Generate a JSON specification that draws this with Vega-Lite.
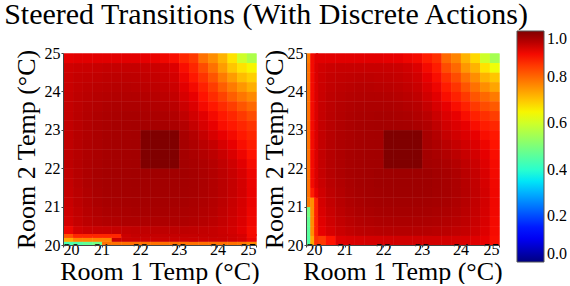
{
"$schema":"https://vega.github.io/schema/vega-lite/v6.json",
"padding":{"left":3,"top":0,"right":0,"bottom":0},
"background":"white",
"bounds":"flush",
"spacing":50,
"title":{"text":"Steered Transitions (With Discrete Actions)","font":"Liberation Serif","fontSize":30,"fontWeight":"normal","color":"black","anchor":"middle","offset":1,"dx":-24},
"config":{"view":{"stroke":null},"rect":{"binSpacing":0},"axis":{"labelFont":"Liberation Serif","labelFontSize":16,"labelColor":"black","titleFont":"Liberation Serif","titleFontSize":26,"titleFontWeight":"normal","titleColor":"black","tickColor":"#444","tickSize":2,"domainColor":"#444","grid":false,"values":[20,21,22,23,24,25],"labelPadding":0}},
"datasets":{
"L":[
{"x":20,"y":24.75,"v":0.912},{"x":20.25,"y":24.75,"v":0.915},{"x":20.5,"y":24.75,"v":0.915},{"x":20.75,"y":24.75,"v":0.915},{"x":21,"y":24.75,"v":0.915},{"x":21.25,"y":24.75,"v":0.915},{"x":21.5,"y":24.75,"v":0.915},{"x":21.75,"y":24.75,"v":0.914},{"x":22,"y":24.75,"v":0.912},{"x":22.25,"y":24.75,"v":0.908},{"x":22.5,"y":24.75,"v":0.903},{"x":22.75,"y":24.75,"v":0.895},{"x":23,"y":24.75,"v":0.87},{"x":23.25,"y":24.75,"v":0.85},{"x":23.5,"y":24.75,"v":0.79},{"x":23.75,"y":24.75,"v":0.76},{"x":24,"y":24.75,"v":0.72},{"x":24.25,"y":24.75,"v":0.67},{"x":24.5,"y":24.75,"v":0.6},{"x":24.75,"y":24.75,"v":0.56},
{"x":20,"y":24.5,"v":0.932},{"x":20.25,"y":24.5,"v":0.935},{"x":20.5,"y":24.5,"v":0.936},{"x":20.75,"y":24.5,"v":0.938},{"x":21,"y":24.5,"v":0.94},{"x":21.25,"y":24.5,"v":0.94},{"x":21.5,"y":24.5,"v":0.94},{"x":21.75,"y":24.5,"v":0.94},{"x":22,"y":24.5,"v":0.938},{"x":22.25,"y":24.5,"v":0.935},{"x":22.5,"y":24.5,"v":0.93},{"x":22.75,"y":24.5,"v":0.92},{"x":23,"y":24.5,"v":0.895},{"x":23.25,"y":24.5,"v":0.87},{"x":23.5,"y":24.5,"v":0.83},{"x":23.75,"y":24.5,"v":0.79},{"x":24,"y":24.5,"v":0.745},{"x":24.25,"y":24.5,"v":0.7},{"x":24.5,"y":24.5,"v":0.67},{"x":24.75,"y":24.5,"v":0.65},
{"x":20,"y":24.25,"v":0.935},{"x":20.25,"y":24.25,"v":0.94},{"x":20.5,"y":24.25,"v":0.942},{"x":20.75,"y":24.25,"v":0.944},{"x":21,"y":24.25,"v":0.946},{"x":21.25,"y":24.25,"v":0.947},{"x":21.5,"y":24.25,"v":0.947},{"x":21.75,"y":24.25,"v":0.946},{"x":22,"y":24.25,"v":0.944},{"x":22.25,"y":24.25,"v":0.941},{"x":22.5,"y":24.25,"v":0.936},{"x":22.75,"y":24.25,"v":0.928},{"x":23,"y":24.25,"v":0.905},{"x":23.25,"y":24.25,"v":0.885},{"x":23.5,"y":24.25,"v":0.855},{"x":23.75,"y":24.25,"v":0.82},{"x":24,"y":24.25,"v":0.78},{"x":24.25,"y":24.25,"v":0.745},{"x":24.5,"y":24.25,"v":0.71},{"x":24.75,"y":24.25,"v":0.69},
{"x":20,"y":24,"v":0.937},{"x":20.25,"y":24,"v":0.943},{"x":20.5,"y":24,"v":0.946},{"x":20.75,"y":24,"v":0.949},{"x":21,"y":24,"v":0.951},{"x":21.25,"y":24,"v":0.952},{"x":21.5,"y":24,"v":0.952},{"x":21.75,"y":24,"v":0.951},{"x":22,"y":24,"v":0.949},{"x":22.25,"y":24,"v":0.946},{"x":22.5,"y":24,"v":0.942},{"x":22.75,"y":24,"v":0.935},{"x":23,"y":24,"v":0.915},{"x":23.25,"y":24,"v":0.9},{"x":23.5,"y":24,"v":0.875},{"x":23.75,"y":24,"v":0.845},{"x":24,"y":24,"v":0.81},{"x":24.25,"y":24,"v":0.78},{"x":24.5,"y":24,"v":0.75},{"x":24.75,"y":24,"v":0.725},
{"x":20,"y":23.75,"v":0.939},{"x":20.25,"y":23.75,"v":0.946},{"x":20.5,"y":23.75,"v":0.95},{"x":20.75,"y":23.75,"v":0.953},{"x":21,"y":23.75,"v":0.955},{"x":21.25,"y":23.75,"v":0.957},{"x":21.5,"y":23.75,"v":0.957},{"x":21.75,"y":23.75,"v":0.957},{"x":22,"y":23.75,"v":0.955},{"x":22.25,"y":23.75,"v":0.952},{"x":22.5,"y":23.75,"v":0.948},{"x":22.75,"y":23.75,"v":0.942},{"x":23,"y":23.75,"v":0.925},{"x":23.25,"y":23.75,"v":0.91},{"x":23.5,"y":23.75,"v":0.89},{"x":23.75,"y":23.75,"v":0.865},{"x":24,"y":23.75,"v":0.84},{"x":24.25,"y":23.75,"v":0.81},{"x":24.5,"y":23.75,"v":0.785},{"x":24.75,"y":23.75,"v":0.765},
{"x":20,"y":23.5,"v":0.941},{"x":20.25,"y":23.5,"v":0.948},{"x":20.5,"y":23.5,"v":0.953},{"x":20.75,"y":23.5,"v":0.956},{"x":21,"y":23.5,"v":0.959},{"x":21.25,"y":23.5,"v":0.961},{"x":21.5,"y":23.5,"v":0.961},{"x":21.75,"y":23.5,"v":0.961},{"x":22,"y":23.5,"v":0.96},{"x":22.25,"y":23.5,"v":0.958},{"x":22.5,"y":23.5,"v":0.955},{"x":22.75,"y":23.5,"v":0.95},{"x":23,"y":23.5,"v":0.935},{"x":23.25,"y":23.5,"v":0.92},{"x":23.5,"y":23.5,"v":0.9},{"x":23.75,"y":23.5,"v":0.885},{"x":24,"y":23.5,"v":0.865},{"x":24.25,"y":23.5,"v":0.845},{"x":24.5,"y":23.5,"v":0.82},{"x":24.75,"y":23.5,"v":0.8},
{"x":20,"y":23.25,"v":0.942},{"x":20.25,"y":23.25,"v":0.95},{"x":20.5,"y":23.25,"v":0.955},{"x":20.75,"y":23.25,"v":0.959},{"x":21,"y":23.25,"v":0.962},{"x":21.25,"y":23.25,"v":0.964},{"x":21.5,"y":23.25,"v":0.965},{"x":21.75,"y":23.25,"v":0.965},{"x":22,"y":23.25,"v":0.964},{"x":22.25,"y":23.25,"v":0.963},{"x":22.5,"y":23.25,"v":0.961},{"x":22.75,"y":23.25,"v":0.957},{"x":23,"y":23.25,"v":0.945},{"x":23.25,"y":23.25,"v":0.93},{"x":23.5,"y":23.25,"v":0.915},{"x":23.75,"y":23.25,"v":0.9},{"x":24,"y":23.25,"v":0.885},{"x":24.25,"y":23.25,"v":0.87},{"x":24.5,"y":23.25,"v":0.85},{"x":24.75,"y":23.25,"v":0.83},
{"x":20,"y":23,"v":0.943},{"x":20.25,"y":23,"v":0.951},{"x":20.5,"y":23,"v":0.957},{"x":20.75,"y":23,"v":0.961},{"x":21,"y":23,"v":0.964},{"x":21.25,"y":23,"v":0.966},{"x":21.5,"y":23,"v":0.967},{"x":21.75,"y":23,"v":0.968},{"x":22,"y":23,"v":0.968},{"x":22.25,"y":23,"v":0.967},{"x":22.5,"y":23,"v":0.966},{"x":22.75,"y":23,"v":0.963},{"x":23,"y":23,"v":0.955},{"x":23.25,"y":23,"v":0.94},{"x":23.5,"y":23,"v":0.925},{"x":23.75,"y":23,"v":0.91},{"x":24,"y":23,"v":0.895},{"x":24.25,"y":23,"v":0.885},{"x":24.5,"y":23,"v":0.87},{"x":24.75,"y":23,"v":0.855},
{"x":20,"y":22.75,"v":0.944},{"x":20.25,"y":22.75,"v":0.952},{"x":20.5,"y":22.75,"v":0.958},{"x":20.75,"y":22.75,"v":0.962},{"x":21,"y":22.75,"v":0.965},{"x":21.25,"y":22.75,"v":0.967},{"x":21.5,"y":22.75,"v":0.968},{"x":21.75,"y":22.75,"v":0.969},{"x":22,"y":22.75,"v":1},{"x":22.25,"y":22.75,"v":1},{"x":22.5,"y":22.75,"v":1},{"x":22.75,"y":22.75,"v":1},{"x":23,"y":22.75,"v":0.965},{"x":23.25,"y":22.75,"v":0.955},{"x":23.5,"y":22.75,"v":0.94},{"x":23.75,"y":22.75,"v":0.925},{"x":24,"y":22.75,"v":0.91},{"x":24.25,"y":22.75,"v":0.9},{"x":24.5,"y":22.75,"v":0.885},{"x":24.75,"y":22.75,"v":0.87},
{"x":20,"y":22.5,"v":0.945},{"x":20.25,"y":22.5,"v":0.953},{"x":20.5,"y":22.5,"v":0.959},{"x":20.75,"y":22.5,"v":0.963},{"x":21,"y":22.5,"v":0.966},{"x":21.25,"y":22.5,"v":0.968},{"x":21.5,"y":22.5,"v":0.969},{"x":21.75,"y":22.5,"v":0.97},{"x":22,"y":22.5,"v":1},{"x":22.25,"y":22.5,"v":1},{"x":22.5,"y":22.5,"v":1},{"x":22.75,"y":22.5,"v":1},{"x":23,"y":22.5,"v":0.967},{"x":23.25,"y":22.5,"v":0.96},{"x":23.5,"y":22.5,"v":0.95},{"x":23.75,"y":22.5,"v":0.94},{"x":24,"y":22.5,"v":0.925},{"x":24.25,"y":22.5,"v":0.91},{"x":24.5,"y":22.5,"v":0.895},{"x":24.75,"y":22.5,"v":0.88},
{"x":20,"y":22.25,"v":0.946},{"x":20.25,"y":22.25,"v":0.953},{"x":20.5,"y":22.25,"v":0.959},{"x":20.75,"y":22.25,"v":0.963},{"x":21,"y":22.25,"v":0.966},{"x":21.25,"y":22.25,"v":0.968},{"x":21.5,"y":22.25,"v":0.969},{"x":21.75,"y":22.25,"v":0.97},{"x":22,"y":22.25,"v":1},{"x":22.25,"y":22.25,"v":1},{"x":22.5,"y":22.25,"v":1},{"x":22.75,"y":22.25,"v":1},{"x":23,"y":22.25,"v":0.968},{"x":23.25,"y":22.25,"v":0.963},{"x":23.5,"y":22.25,"v":0.956},{"x":23.75,"y":22.25,"v":0.948},{"x":24,"y":22.25,"v":0.937},{"x":24.25,"y":22.25,"v":0.922},{"x":24.5,"y":22.25,"v":0.905},{"x":24.75,"y":22.25,"v":0.89},
{"x":20,"y":22,"v":0.946},{"x":20.25,"y":22,"v":0.954},{"x":20.5,"y":22,"v":0.96},{"x":20.75,"y":22,"v":0.964},{"x":21,"y":22,"v":0.967},{"x":21.25,"y":22,"v":0.968},{"x":21.5,"y":22,"v":0.969},{"x":21.75,"y":22,"v":0.97},{"x":22,"y":22,"v":1},{"x":22.25,"y":22,"v":1},{"x":22.5,"y":22,"v":1},{"x":22.75,"y":22,"v":1},{"x":23,"y":22,"v":0.969},{"x":23.25,"y":22,"v":0.965},{"x":23.5,"y":22,"v":0.96},{"x":23.75,"y":22,"v":0.953},{"x":24,"y":22,"v":0.944},{"x":24.25,"y":22,"v":0.932},{"x":24.5,"y":22,"v":0.915},{"x":24.75,"y":22,"v":0.897},
{"x":20,"y":21.75,"v":0.944},{"x":20.25,"y":21.75,"v":0.953},{"x":20.5,"y":21.75,"v":0.96},{"x":20.75,"y":21.75,"v":0.965},{"x":21,"y":21.75,"v":0.968},{"x":21.25,"y":21.75,"v":0.969},{"x":21.5,"y":21.75,"v":0.97},{"x":21.75,"y":21.75,"v":0.971},{"x":22,"y":21.75,"v":0.972},{"x":22.25,"y":21.75,"v":0.972},{"x":22.5,"y":21.75,"v":0.972},{"x":22.75,"y":21.75,"v":0.971},{"x":23,"y":21.75,"v":0.97},{"x":23.25,"y":21.75,"v":0.967},{"x":23.5,"y":21.75,"v":0.962},{"x":23.75,"y":21.75,"v":0.956},{"x":24,"y":21.75,"v":0.948},{"x":24.25,"y":21.75,"v":0.938},{"x":24.5,"y":21.75,"v":0.924},{"x":24.75,"y":21.75,"v":0.905},
{"x":20,"y":21.5,"v":0.942},{"x":20.25,"y":21.5,"v":0.952},{"x":20.5,"y":21.5,"v":0.96},{"x":20.75,"y":21.5,"v":0.965},{"x":21,"y":21.5,"v":0.968},{"x":21.25,"y":21.5,"v":0.969},{"x":21.5,"y":21.5,"v":0.97},{"x":21.75,"y":21.5,"v":0.971},{"x":22,"y":21.5,"v":0.971},{"x":22.25,"y":21.5,"v":0.971},{"x":22.5,"y":21.5,"v":0.971},{"x":22.75,"y":21.5,"v":0.97},{"x":23,"y":21.5,"v":0.969},{"x":23.25,"y":21.5,"v":0.967},{"x":23.5,"y":21.5,"v":0.963},{"x":23.75,"y":21.5,"v":0.957},{"x":24,"y":21.5,"v":0.95},{"x":24.25,"y":21.5,"v":0.94},{"x":24.5,"y":21.5,"v":0.927},{"x":24.75,"y":21.5,"v":0.907},
{"x":20,"y":21.25,"v":0.94},{"x":20.25,"y":21.25,"v":0.95},{"x":20.5,"y":21.25,"v":0.958},{"x":20.75,"y":21.25,"v":0.964},{"x":21,"y":21.25,"v":0.967},{"x":21.25,"y":21.25,"v":0.968},{"x":21.5,"y":21.25,"v":0.969},{"x":21.75,"y":21.25,"v":0.97},{"x":22,"y":21.25,"v":0.97},{"x":22.25,"y":21.25,"v":0.97},{"x":22.5,"y":21.25,"v":0.97},{"x":22.75,"y":21.25,"v":0.969},{"x":23,"y":21.25,"v":0.968},{"x":23.25,"y":21.25,"v":0.966},{"x":23.5,"y":21.25,"v":0.962},{"x":23.75,"y":21.25,"v":0.957},{"x":24,"y":21.25,"v":0.95},{"x":24.25,"y":21.25,"v":0.94},{"x":24.5,"y":21.25,"v":0.928},{"x":24.75,"y":21.25,"v":0.908},
{"x":20,"y":21,"v":0.937},{"x":20.25,"y":21,"v":0.948},{"x":20.5,"y":21,"v":0.956},{"x":20.75,"y":21,"v":0.962},{"x":21,"y":21,"v":0.965},{"x":21.25,"y":21,"v":0.966},{"x":21.5,"y":21,"v":0.967},{"x":21.75,"y":21,"v":0.968},{"x":22,"y":21,"v":0.968},{"x":22.25,"y":21,"v":0.968},{"x":22.5,"y":21,"v":0.968},{"x":22.75,"y":21,"v":0.967},{"x":23,"y":21,"v":0.966},{"x":23.25,"y":21,"v":0.964},{"x":23.5,"y":21,"v":0.96},{"x":23.75,"y":21,"v":0.955},{"x":24,"y":21,"v":0.948},{"x":24.25,"y":21,"v":0.938},{"x":24.5,"y":21,"v":0.926},{"x":24.75,"y":21,"v":0.907},
{"x":20,"y":20.75,"v":0.933},{"x":20.25,"y":20.75,"v":0.944},{"x":20.5,"y":20.75,"v":0.952},{"x":20.75,"y":20.75,"v":0.958},{"x":21,"y":20.75,"v":0.962},{"x":21.25,"y":20.75,"v":0.963},{"x":21.5,"y":20.75,"v":0.964},{"x":21.75,"y":20.75,"v":0.965},{"x":22,"y":20.75,"v":0.965},{"x":22.25,"y":20.75,"v":0.965},{"x":22.5,"y":20.75,"v":0.965},{"x":22.75,"y":20.75,"v":0.964},{"x":23,"y":20.75,"v":0.963},{"x":23.25,"y":20.75,"v":0.961},{"x":23.5,"y":20.75,"v":0.957},{"x":23.75,"y":20.75,"v":0.952},{"x":24,"y":20.75,"v":0.945},{"x":24.25,"y":20.75,"v":0.935},{"x":24.5,"y":20.75,"v":0.923},{"x":24.75,"y":20.75,"v":0.905},
{"x":20,"y":20.5,"v":0.928},{"x":20.25,"y":20.5,"v":0.94},{"x":20.5,"y":20.5,"v":0.948},{"x":20.75,"y":20.5,"v":0.953},{"x":21,"y":20.5,"v":0.957},{"x":21.25,"y":20.5,"v":0.958},{"x":21.5,"y":20.5,"v":0.96},{"x":21.75,"y":20.5,"v":0.96},{"x":22,"y":20.5,"v":0.96},{"x":22.25,"y":20.5,"v":0.96},{"x":22.5,"y":20.5,"v":0.96},{"x":22.75,"y":20.5,"v":0.96},{"x":23,"y":20.5,"v":0.959},{"x":23.25,"y":20.5,"v":0.957},{"x":23.5,"y":20.5,"v":0.953},{"x":23.75,"y":20.5,"v":0.948},{"x":24,"y":20.5,"v":0.941},{"x":24.25,"y":20.5,"v":0.932},{"x":24.5,"y":20.5,"v":0.92},{"x":24.75,"y":20.5,"v":0.903},
{"x":20,"y":20.25,"v":0.905},{"x":20.25,"y":20.25,"v":0.928},{"x":20.5,"y":20.25,"v":0.935},{"x":20.75,"y":20.25,"v":0.937},{"x":21,"y":20.25,"v":0.938},{"x":21.25,"y":20.25,"v":0.94},{"x":21.5,"y":20.25,"v":0.942},{"x":21.75,"y":20.25,"v":0.944},{"x":22,"y":20.25,"v":0.945},{"x":22.25,"y":20.25,"v":0.946},{"x":22.5,"y":20.25,"v":0.946},{"x":22.75,"y":20.25,"v":0.946},{"x":23,"y":20.25,"v":0.946},{"x":23.25,"y":20.25,"v":0.945},{"x":23.5,"y":20.25,"v":0.943},{"x":23.75,"y":20.25,"v":0.94},{"x":24,"y":20.25,"v":0.935},{"x":24.25,"y":20.25,"v":0.928},{"x":24.5,"y":20.25,"v":0.915},{"x":24.75,"y":20.25,"v":0.898}
],
"Lb":[
{"x":20,"y":20,"v":0.44},{"x":20.25,"y":20,"v":0.45},{"x":20.5,"y":20,"v":0.47},{"x":20.75,"y":20,"v":0.49},{"x":21,"y":20,"v":0.79},{"x":21.25,"y":20,"v":0.79},{"x":21.5,"y":20,"v":0.79},{"x":21.75,"y":20,"v":0.79},{"x":22,"y":20,"v":0.79},{"x":22.25,"y":20,"v":0.79},{"x":22.5,"y":20,"v":0.79},{"x":22.75,"y":20,"v":0.79},{"x":23,"y":20,"v":0.79},{"x":23.25,"y":20,"v":0.79},{"x":23.5,"y":20,"v":0.79},{"x":23.75,"y":20,"v":0.79},{"x":24,"y":20,"v":0.79},{"x":24.25,"y":20,"v":0.79},{"x":24.5,"y":20,"v":0.785},{"x":24.75,"y":20,"v":0.77},
{"x":20,"y":20.1,"v":0.73},{"x":20.25,"y":20.1,"v":0.77},{"x":20.5,"y":20.1,"v":0.77},{"x":20.75,"y":20.1,"v":0.77},{"x":21,"y":20.1,"v":0.77},{"x":21.25,"y":20.1,"v":0.935},{"x":21.5,"y":20.1,"v":0.935},{"x":21.75,"y":20.1,"v":0.935},{"x":22,"y":20.1,"v":0.935},{"x":22.25,"y":20.1,"v":0.935},{"x":22.5,"y":20.1,"v":0.935},{"x":22.75,"y":20.1,"v":0.935},{"x":23,"y":20.1,"v":0.935},{"x":23.25,"y":20.1,"v":0.935},{"x":23.5,"y":20.1,"v":0.935},{"x":23.75,"y":20.1,"v":0.935},{"x":24,"y":20.1,"v":0.935},{"x":24.25,"y":20.1,"v":0.932},{"x":24.5,"y":20.1,"v":0.925},{"x":24.75,"y":20.1,"v":0.905},
{"x":20,"y":20.2,"v":0.825},{"x":20.25,"y":20.2,"v":0.87},{"x":20.5,"y":20.2,"v":0.87},{"x":20.75,"y":20.2,"v":0.87},{"x":21,"y":20.2,"v":0.87},{"x":21.25,"y":20.2,"v":0.87},{"x":21.5,"y":20.2,"v":0.935},{"x":21.75,"y":20.2,"v":0.94},{"x":22,"y":20.2,"v":0.94},{"x":22.25,"y":20.2,"v":0.94},{"x":22.5,"y":20.2,"v":0.94},{"x":22.75,"y":20.2,"v":0.94},{"x":23,"y":20.2,"v":0.94},{"x":23.25,"y":20.2,"v":0.94},{"x":23.5,"y":20.2,"v":0.94},{"x":23.75,"y":20.2,"v":0.94},{"x":24,"y":20.2,"v":0.937},{"x":24.25,"y":20.2,"v":0.932},{"x":24.5,"y":20.2,"v":0.925},{"x":24.75,"y":20.2,"v":0.9}
],
"R":[
{"x":20.25,"y":24.75,"v":0.915},{"x":20.5,"y":24.75,"v":0.915},{"x":20.75,"y":24.75,"v":0.915},{"x":21,"y":24.75,"v":0.915},{"x":21.25,"y":24.75,"v":0.915},{"x":21.5,"y":24.75,"v":0.915},{"x":21.75,"y":24.75,"v":0.915},{"x":22,"y":24.75,"v":0.912},{"x":22.25,"y":24.75,"v":0.91},{"x":22.5,"y":24.75,"v":0.905},{"x":22.75,"y":24.75,"v":0.9},{"x":23,"y":24.75,"v":0.88},{"x":23.25,"y":24.75,"v":0.86},{"x":23.5,"y":24.75,"v":0.8},{"x":23.75,"y":24.75,"v":0.77},{"x":24,"y":24.75,"v":0.72},{"x":24.25,"y":24.75,"v":0.68},{"x":24.5,"y":24.75,"v":0.6},{"x":24.75,"y":24.75,"v":0.55},
{"x":20.25,"y":24.5,"v":0.93},{"x":20.5,"y":24.5,"v":0.935},{"x":20.75,"y":24.5,"v":0.938},{"x":21,"y":24.5,"v":0.938},{"x":21.25,"y":24.5,"v":0.938},{"x":21.5,"y":24.5,"v":0.938},{"x":21.75,"y":24.5,"v":0.938},{"x":22,"y":24.5,"v":0.937},{"x":22.25,"y":24.5,"v":0.935},{"x":22.5,"y":24.5,"v":0.93},{"x":22.75,"y":24.5,"v":0.92},{"x":23,"y":24.5,"v":0.9},{"x":23.25,"y":24.5,"v":0.88},{"x":23.5,"y":24.5,"v":0.83},{"x":23.75,"y":24.5,"v":0.8},{"x":24,"y":24.5,"v":0.75},{"x":24.25,"y":24.5,"v":0.72},{"x":24.5,"y":24.5,"v":0.67},{"x":24.75,"y":24.5,"v":0.64},
{"x":20.25,"y":24.25,"v":0.933},{"x":20.5,"y":24.25,"v":0.94},{"x":20.75,"y":24.25,"v":0.943},{"x":21,"y":24.25,"v":0.945},{"x":21.25,"y":24.25,"v":0.946},{"x":21.5,"y":24.25,"v":0.946},{"x":21.75,"y":24.25,"v":0.945},{"x":22,"y":24.25,"v":0.944},{"x":22.25,"y":24.25,"v":0.941},{"x":22.5,"y":24.25,"v":0.937},{"x":22.75,"y":24.25,"v":0.93},{"x":23,"y":24.25,"v":0.91},{"x":23.25,"y":24.25,"v":0.895},{"x":23.5,"y":24.25,"v":0.86},{"x":23.75,"y":24.25,"v":0.83},{"x":24,"y":24.25,"v":0.79},{"x":24.25,"y":24.25,"v":0.76},{"x":24.5,"y":24.25,"v":0.72},{"x":24.75,"y":24.25,"v":0.7},
{"x":20.25,"y":24,"v":0.935},{"x":20.5,"y":24,"v":0.943},{"x":20.75,"y":24,"v":0.947},{"x":21,"y":24,"v":0.95},{"x":21.25,"y":24,"v":0.952},{"x":21.5,"y":24,"v":0.952},{"x":21.75,"y":24,"v":0.951},{"x":22,"y":24,"v":0.95},{"x":22.25,"y":24,"v":0.947},{"x":22.5,"y":24,"v":0.943},{"x":22.75,"y":24,"v":0.937},{"x":23,"y":24,"v":0.92},{"x":23.25,"y":24,"v":0.905},{"x":23.5,"y":24,"v":0.88},{"x":23.75,"y":24,"v":0.855},{"x":24,"y":24,"v":0.82},{"x":24.25,"y":24,"v":0.79},{"x":24.5,"y":24,"v":0.76},{"x":24.75,"y":24,"v":0.735},
{"x":20.25,"y":23.75,"v":0.937},{"x":20.5,"y":23.75,"v":0.946},{"x":20.75,"y":23.75,"v":0.951},{"x":21,"y":23.75,"v":0.954},{"x":21.25,"y":23.75,"v":0.956},{"x":21.5,"y":23.75,"v":0.957},{"x":21.75,"y":23.75,"v":0.957},{"x":22,"y":23.75,"v":0.956},{"x":22.25,"y":23.75,"v":0.953},{"x":22.5,"y":23.75,"v":0.95},{"x":22.75,"y":23.75,"v":0.945},{"x":23,"y":23.75,"v":0.93},{"x":23.25,"y":23.75,"v":0.915},{"x":23.5,"y":23.75,"v":0.895},{"x":23.75,"y":23.75,"v":0.875},{"x":24,"y":23.75,"v":0.85},{"x":24.25,"y":23.75,"v":0.82},{"x":24.5,"y":23.75,"v":0.8},{"x":24.75,"y":23.75,"v":0.78},
{"x":20.25,"y":23.5,"v":0.939},{"x":20.5,"y":23.5,"v":0.948},{"x":20.75,"y":23.5,"v":0.954},{"x":21,"y":23.5,"v":0.958},{"x":21.25,"y":23.5,"v":0.96},{"x":21.5,"y":23.5,"v":0.961},{"x":21.75,"y":23.5,"v":0.961},{"x":22,"y":23.5,"v":0.961},{"x":22.25,"y":23.5,"v":0.959},{"x":22.5,"y":23.5,"v":0.956},{"x":22.75,"y":23.5,"v":0.952},{"x":23,"y":23.5,"v":0.94},{"x":23.25,"y":23.5,"v":0.925},{"x":23.5,"y":23.5,"v":0.91},{"x":23.75,"y":23.5,"v":0.895},{"x":24,"y":23.5,"v":0.875},{"x":24.25,"y":23.5,"v":0.85},{"x":24.5,"y":23.5,"v":0.83},{"x":24.75,"y":23.5,"v":0.815},
{"x":20.25,"y":23.25,"v":0.94},{"x":20.5,"y":23.25,"v":0.95},{"x":20.75,"y":23.25,"v":0.956},{"x":21,"y":23.25,"v":0.96},{"x":21.25,"y":23.25,"v":0.963},{"x":21.5,"y":23.25,"v":0.964},{"x":21.75,"y":23.25,"v":0.965},{"x":22,"y":23.25,"v":0.965},{"x":22.25,"y":23.25,"v":0.964},{"x":22.5,"y":23.25,"v":0.962},{"x":22.75,"y":23.25,"v":0.958},{"x":23,"y":23.25,"v":0.95},{"x":23.25,"y":23.25,"v":0.935},{"x":23.5,"y":23.25,"v":0.92},{"x":23.75,"y":23.25,"v":0.91},{"x":24,"y":23.25,"v":0.895},{"x":24.25,"y":23.25,"v":0.875},{"x":24.5,"y":23.25,"v":0.86},{"x":24.75,"y":23.25,"v":0.845},
{"x":20.25,"y":23,"v":0.941},{"x":20.5,"y":23,"v":0.951},{"x":20.75,"y":23,"v":0.958},{"x":21,"y":23,"v":0.962},{"x":21.25,"y":23,"v":0.965},{"x":21.5,"y":23,"v":0.967},{"x":21.75,"y":23,"v":0.968},{"x":22,"y":23,"v":0.968},{"x":22.25,"y":23,"v":0.968},{"x":22.5,"y":23,"v":0.967},{"x":22.75,"y":23,"v":0.964},{"x":23,"y":23,"v":0.958},{"x":23.25,"y":23,"v":0.945},{"x":23.5,"y":23,"v":0.93},{"x":23.75,"y":23,"v":0.92},{"x":24,"y":23,"v":0.91},{"x":24.25,"y":23,"v":0.895},{"x":24.5,"y":23,"v":0.88},{"x":24.75,"y":23,"v":0.87},
{"x":20.25,"y":22.75,"v":0.942},{"x":20.5,"y":22.75,"v":0.952},{"x":20.75,"y":22.75,"v":0.959},{"x":21,"y":22.75,"v":0.963},{"x":21.25,"y":22.75,"v":0.966},{"x":21.5,"y":22.75,"v":0.968},{"x":21.75,"y":22.75,"v":0.969},{"x":22,"y":22.75,"v":1},{"x":22.25,"y":22.75,"v":1},{"x":22.5,"y":22.75,"v":1},{"x":22.75,"y":22.75,"v":1},{"x":23,"y":22.75,"v":0.965},{"x":23.25,"y":22.75,"v":0.955},{"x":23.5,"y":22.75,"v":0.94},{"x":23.75,"y":22.75,"v":0.93},{"x":24,"y":22.75,"v":0.92},{"x":24.25,"y":22.75,"v":0.91},{"x":24.5,"y":22.75,"v":0.895},{"x":24.75,"y":22.75,"v":0.885},
{"x":20.25,"y":22.5,"v":0.942},{"x":20.5,"y":22.5,"v":0.953},{"x":20.75,"y":22.5,"v":0.96},{"x":21,"y":22.5,"v":0.964},{"x":21.25,"y":22.5,"v":0.967},{"x":21.5,"y":22.5,"v":0.969},{"x":21.75,"y":22.5,"v":0.97},{"x":22,"y":22.5,"v":1},{"x":22.25,"y":22.5,"v":1},{"x":22.5,"y":22.5,"v":1},{"x":22.75,"y":22.5,"v":1},{"x":23,"y":22.5,"v":0.967},{"x":23.25,"y":22.5,"v":0.96},{"x":23.5,"y":22.5,"v":0.95},{"x":23.75,"y":22.5,"v":0.94},{"x":24,"y":22.5,"v":0.93},{"x":24.25,"y":22.5,"v":0.92},{"x":24.5,"y":22.5,"v":0.905},{"x":24.75,"y":22.5,"v":0.89},
{"x":20.25,"y":22.25,"v":0.942},{"x":20.5,"y":22.25,"v":0.953},{"x":20.75,"y":22.25,"v":0.96},{"x":21,"y":22.25,"v":0.965},{"x":21.25,"y":22.25,"v":0.968},{"x":21.5,"y":22.25,"v":0.97},{"x":21.75,"y":22.25,"v":0.971},{"x":22,"y":22.25,"v":1},{"x":22.25,"y":22.25,"v":1},{"x":22.5,"y":22.25,"v":1},{"x":22.75,"y":22.25,"v":1},{"x":23,"y":22.25,"v":0.969},{"x":23.25,"y":22.25,"v":0.964},{"x":23.5,"y":22.25,"v":0.957},{"x":23.75,"y":22.25,"v":0.948},{"x":24,"y":22.25,"v":0.938},{"x":24.25,"y":22.25,"v":0.928},{"x":24.5,"y":22.25,"v":0.912},{"x":24.75,"y":22.25,"v":0.895},
{"x":20.25,"y":22,"v":0.941},{"x":20.5,"y":22,"v":0.953},{"x":20.75,"y":22,"v":0.96},{"x":21,"y":22,"v":0.965},{"x":21.25,"y":22,"v":0.968},{"x":21.5,"y":22,"v":0.97},{"x":21.75,"y":22,"v":0.971},{"x":22,"y":22,"v":1},{"x":22.25,"y":22,"v":1},{"x":22.5,"y":22,"v":1},{"x":22.75,"y":22,"v":1},{"x":23,"y":22,"v":0.97},{"x":23.25,"y":22,"v":0.967},{"x":23.5,"y":22,"v":0.962},{"x":23.75,"y":22,"v":0.955},{"x":24,"y":22,"v":0.945},{"x":24.25,"y":22,"v":0.935},{"x":24.5,"y":22,"v":0.918},{"x":24.75,"y":22,"v":0.898},
{"x":20.25,"y":21.75,"v":0.94},{"x":20.5,"y":21.75,"v":0.952},{"x":20.75,"y":21.75,"v":0.96},{"x":21,"y":21.75,"v":0.965},{"x":21.25,"y":21.75,"v":0.968},{"x":21.5,"y":21.75,"v":0.97},{"x":21.75,"y":21.75,"v":0.972},{"x":22,"y":21.75,"v":0.973},{"x":22.25,"y":21.75,"v":0.974},{"x":22.5,"y":21.75,"v":0.974},{"x":22.75,"y":21.75,"v":0.974},{"x":23,"y":21.75,"v":0.973},{"x":23.25,"y":21.75,"v":0.97},{"x":23.5,"y":21.75,"v":0.966},{"x":23.75,"y":21.75,"v":0.96},{"x":24,"y":21.75,"v":0.95},{"x":24.25,"y":21.75,"v":0.94},{"x":24.5,"y":21.75,"v":0.923},{"x":24.75,"y":21.75,"v":0.9},
{"x":20.25,"y":21.5,"v":0.937},{"x":20.5,"y":21.5,"v":0.95},{"x":20.75,"y":21.5,"v":0.958},{"x":21,"y":21.5,"v":0.964},{"x":21.25,"y":21.5,"v":0.968},{"x":21.5,"y":21.5,"v":0.97},{"x":21.75,"y":21.5,"v":0.972},{"x":22,"y":21.5,"v":0.973},{"x":22.25,"y":21.5,"v":0.974},{"x":22.5,"y":21.5,"v":0.974},{"x":22.75,"y":21.5,"v":0.974},{"x":23,"y":21.5,"v":0.973},{"x":23.25,"y":21.5,"v":0.971},{"x":23.5,"y":21.5,"v":0.967},{"x":23.75,"y":21.5,"v":0.962},{"x":24,"y":21.5,"v":0.953},{"x":24.25,"y":21.5,"v":0.943},{"x":24.5,"y":21.5,"v":0.926},{"x":24.75,"y":21.5,"v":0.902},
{"x":20.25,"y":21.25,"v":0.932},{"x":20.5,"y":21.25,"v":0.946},{"x":20.75,"y":21.25,"v":0.955},{"x":21,"y":21.25,"v":0.962},{"x":21.25,"y":21.25,"v":0.966},{"x":21.5,"y":21.25,"v":0.969},{"x":21.75,"y":21.25,"v":0.971},{"x":22,"y":21.25,"v":0.972},{"x":22.25,"y":21.25,"v":0.973},{"x":22.5,"y":21.25,"v":0.973},{"x":22.75,"y":21.25,"v":0.973},{"x":23,"y":21.25,"v":0.972},{"x":23.25,"y":21.25,"v":0.97},{"x":23.5,"y":21.25,"v":0.967},{"x":23.75,"y":21.25,"v":0.962},{"x":24,"y":21.25,"v":0.954},{"x":24.25,"y":21.25,"v":0.944},{"x":24.5,"y":21.25,"v":0.928},{"x":24.75,"y":21.25,"v":0.903},
{"x":20.25,"y":21,"v":0.927},{"x":20.5,"y":21,"v":0.942},{"x":20.75,"y":21,"v":0.952},{"x":21,"y":21,"v":0.959},{"x":21.25,"y":21,"v":0.964},{"x":21.5,"y":21,"v":0.967},{"x":21.75,"y":21,"v":0.969},{"x":22,"y":21,"v":0.97},{"x":22.25,"y":21,"v":0.971},{"x":22.5,"y":21,"v":0.971},{"x":22.75,"y":21,"v":0.971},{"x":23,"y":21,"v":0.97},{"x":23.25,"y":21,"v":0.968},{"x":23.5,"y":21,"v":0.965},{"x":23.75,"y":21,"v":0.96},{"x":24,"y":21,"v":0.953},{"x":24.25,"y":21,"v":0.943},{"x":24.5,"y":21,"v":0.928},{"x":24.75,"y":21,"v":0.903},
{"x":20.25,"y":20.75,"v":0.922},{"x":20.5,"y":20.75,"v":0.937},{"x":20.75,"y":20.75,"v":0.948},{"x":21,"y":20.75,"v":0.955},{"x":21.25,"y":20.75,"v":0.96},{"x":21.5,"y":20.75,"v":0.963},{"x":21.75,"y":20.75,"v":0.965},{"x":22,"y":20.75,"v":0.966},{"x":22.25,"y":20.75,"v":0.967},{"x":22.5,"y":20.75,"v":0.967},{"x":22.75,"y":20.75,"v":0.967},{"x":23,"y":20.75,"v":0.966},{"x":23.25,"y":20.75,"v":0.964},{"x":23.5,"y":20.75,"v":0.961},{"x":23.75,"y":20.75,"v":0.957},{"x":24,"y":20.75,"v":0.95},{"x":24.25,"y":20.75,"v":0.94},{"x":24.5,"y":20.75,"v":0.926},{"x":24.75,"y":20.75,"v":0.902},
{"x":20.25,"y":20.5,"v":0.916},{"x":20.5,"y":20.5,"v":0.932},{"x":20.75,"y":20.5,"v":0.943},{"x":21,"y":20.5,"v":0.95},{"x":21.25,"y":20.5,"v":0.955},{"x":21.5,"y":20.5,"v":0.958},{"x":21.75,"y":20.5,"v":0.96},{"x":22,"y":20.5,"v":0.961},{"x":22.25,"y":20.5,"v":0.962},{"x":22.5,"y":20.5,"v":0.962},{"x":22.75,"y":20.5,"v":0.962},{"x":23,"y":20.5,"v":0.961},{"x":23.25,"y":20.5,"v":0.959},{"x":23.5,"y":20.5,"v":0.956},{"x":23.75,"y":20.5,"v":0.952},{"x":24,"y":20.5,"v":0.946},{"x":24.25,"y":20.5,"v":0.937},{"x":24.5,"y":20.5,"v":0.923},{"x":24.75,"y":20.5,"v":0.9},
{"x":20.25,"y":20.25,"v":0.91},{"x":20.5,"y":20.25,"v":0.925},{"x":20.75,"y":20.25,"v":0.936},{"x":21,"y":20.25,"v":0.943},{"x":21.25,"y":20.25,"v":0.948},{"x":21.5,"y":20.25,"v":0.95},{"x":21.75,"y":20.25,"v":0.952},{"x":22,"y":20.25,"v":0.953},{"x":22.25,"y":20.25,"v":0.954},{"x":22.5,"y":20.25,"v":0.954},{"x":22.75,"y":20.25,"v":0.954},{"x":23,"y":20.25,"v":0.953},{"x":23.25,"y":20.25,"v":0.951},{"x":23.5,"y":20.25,"v":0.949},{"x":23.75,"y":20.25,"v":0.945},{"x":24,"y":20.25,"v":0.94},{"x":24.25,"y":20.25,"v":0.932},{"x":24.5,"y":20.25,"v":0.919},{"x":24.75,"y":20.25,"v":0.898},
{"x":20.25,"y":20,"v":0.85},{"x":20.5,"y":20,"v":0.89},{"x":20.75,"y":20,"v":0.918},{"x":21,"y":20,"v":0.922},{"x":21.25,"y":20,"v":0.925},{"x":21.5,"y":20,"v":0.927},{"x":21.75,"y":20,"v":0.928},{"x":22,"y":20,"v":0.929},{"x":22.25,"y":20,"v":0.93},{"x":22.5,"y":20,"v":0.93},{"x":22.75,"y":20,"v":0.93},{"x":23,"y":20,"v":0.93},{"x":23.25,"y":20,"v":0.929},{"x":23.5,"y":20,"v":0.928},{"x":23.75,"y":20,"v":0.926},{"x":24,"y":20,"v":0.923},{"x":24.25,"y":20,"v":0.918},{"x":24.5,"y":20,"v":0.91},{"x":24.75,"y":20,"v":0.895}
],
"Rl":[
{"x":20,"y":20,"v":0.45},{"x":20,"y":20.25,"v":0.46},{"x":20,"y":20.5,"v":0.47},{"x":20,"y":20.75,"v":0.49},{"x":20,"y":21,"v":0.78},{"x":20,"y":21.25,"v":0.79},{"x":20,"y":21.5,"v":0.79},{"x":20,"y":21.75,"v":0.79},{"x":20,"y":22,"v":0.79},{"x":20,"y":22.25,"v":0.79},{"x":20,"y":22.5,"v":0.79},{"x":20,"y":22.75,"v":0.79},{"x":20,"y":23,"v":0.79},{"x":20,"y":23.25,"v":0.79},{"x":20,"y":23.5,"v":0.79},{"x":20,"y":23.75,"v":0.79},{"x":20,"y":24,"v":0.79},{"x":20,"y":24.25,"v":0.79},{"x":20,"y":24.5,"v":0.79},{"x":20,"y":24.75,"v":0.78},
{"x":20.1,"y":20,"v":0.73},{"x":20.1,"y":20.25,"v":0.76},{"x":20.1,"y":20.5,"v":0.76},{"x":20.1,"y":20.75,"v":0.76},{"x":20.1,"y":21,"v":0.76},{"x":20.1,"y":21.25,"v":0.88},{"x":20.1,"y":21.5,"v":0.9},{"x":20.1,"y":21.75,"v":0.9},{"x":20.1,"y":22,"v":0.9},{"x":20.1,"y":22.25,"v":0.9},{"x":20.1,"y":22.5,"v":0.9},{"x":20.1,"y":22.75,"v":0.9},{"x":20.1,"y":23,"v":0.9},{"x":20.1,"y":23.25,"v":0.9},{"x":20.1,"y":23.5,"v":0.9},{"x":20.1,"y":23.75,"v":0.9},{"x":20.1,"y":24,"v":0.9},{"x":20.1,"y":24.25,"v":0.9},{"x":20.1,"y":24.5,"v":0.9},{"x":20.1,"y":24.75,"v":0.9},
{"x":20.2,"y":20,"v":0.86},{"x":20.2,"y":20.25,"v":0.875},{"x":20.2,"y":20.5,"v":0.875},{"x":20.2,"y":20.75,"v":0.875},{"x":20.2,"y":21,"v":0.875},{"x":20.2,"y":21.25,"v":0.91},{"x":20.2,"y":21.5,"v":0.92},{"x":20.2,"y":21.75,"v":0.92},{"x":20.2,"y":22,"v":0.92},{"x":20.2,"y":22.25,"v":0.92},{"x":20.2,"y":22.5,"v":0.92},{"x":20.2,"y":22.75,"v":0.92},{"x":20.2,"y":23,"v":0.92},{"x":20.2,"y":23.25,"v":0.92},{"x":20.2,"y":23.5,"v":0.92},{"x":20.2,"y":23.75,"v":0.92},{"x":20.2,"y":24,"v":0.92},{"x":20.2,"y":24.25,"v":0.92},{"x":20.2,"y":24.5,"v":0.92},{"x":20.2,"y":24.75,"v":0.915}
]
},
"hconcat":[
{"width":193,"height":192,
"layer":[
{"data":{"name":"L"},"mark":{"type":"rect","binSpacing":0},"encoding":{
"x":{"field":"x","type":"quantitative","bin":{"binned":true,"step":0.25},"scale":{"domain":[20,25],"nice":false},"axis":{"title":"Room 1 Temp (°C)","format":"d","labelPadding":-6,"titlePadding":1}},
"y":{"field":"y","type":"quantitative","bin":{"binned":true,"step":0.25},"scale":{"domain":[20,25],"nice":false},"axis":{"title":"Room 2 Temp (°C)","format":"d","labelPadding":1,"titlePadding":5}},
"color":{"field":"v","type":"quantitative","scale":{"domain":[0,0.11,0.125,0.34,0.35,0.375,0.64,0.65,0.66,0.89,0.91,1],"range":["#000080","#0000ff","#0000ff","#00dbff","#00e6f7","#15ffe2","#efff08","#f7f600","#ffec00","#ff1300","#e80000","#800000"],"interpolate":"rgb"},
"legend":{"orient":"none","legendX":454,"legendY":-22,"direction":"vertical","gradientLength":231,"gradientThickness":27,"title":null,"values":[0,0.2,0.4,0.6,0.8,1],"format":".1f","labelFont":"Liberation Serif","labelFontSize":16,"labelColor":"black","labelBaseline":"middle","labelOffset":3,"labelOverlap":false,"gradientStrokeColor":"#555","gradientStrokeWidth":1}}}},
{"data":{"name":"L"},"mark":{"type":"rect","binSpacing":0},"encoding":{
"x":{"field":"x","type":"quantitative","bin":{"binned":true,"step":0.25}},
"y":{"field":"y","type":"quantitative","bin":{"binned":true,"step":0.25}},
"color":{"field":"v","type":"quantitative"}}},
{"data":{"name":"Lb"},"mark":{"type":"rect","binSpacing":0},"encoding":{
"x":{"field":"x","type":"quantitative","bin":{"binned":true,"step":0.25}},
"y":{"field":"y","type":"quantitative","bin":{"binned":true,"step":0.1}},
"color":{"field":"v","type":"quantitative"}}},
{"data":{"name":"Lb"},"mark":{"type":"rect","binSpacing":0},"encoding":{
"x":{"field":"x","type":"quantitative","bin":{"binned":true,"step":0.25}},
"y":{"field":"y","type":"quantitative","bin":{"binned":true,"step":0.1}},
"color":{"field":"v","type":"quantitative"}}}
]},
{"width":193,"height":192,
"layer":[
{"data":{"name":"R"},"mark":{"type":"rect","binSpacing":0},"encoding":{
"x":{"field":"x","type":"quantitative","bin":{"binned":true,"step":0.25},"scale":{"domain":[20,25],"nice":false},"axis":{"title":"Room 1 Temp (°C)","format":"d","labelPadding":-6,"titlePadding":1}},
"y":{"field":"y","type":"quantitative","bin":{"binned":true,"step":0.25},"scale":{"domain":[20,25],"nice":false},"axis":{"title":"Room 2 Temp (°C)","format":"d","labelPadding":1,"titlePadding":0}},
"color":{"field":"v","type":"quantitative"}}},
{"data":{"name":"R"},"mark":{"type":"rect","binSpacing":0},"encoding":{
"x":{"field":"x","type":"quantitative","bin":{"binned":true,"step":0.25}},
"y":{"field":"y","type":"quantitative","bin":{"binned":true,"step":0.25}},
"color":{"field":"v","type":"quantitative"}}},
{"data":{"name":"Rl"},"mark":{"type":"rect","binSpacing":0},"encoding":{
"x":{"field":"x","type":"quantitative","bin":{"binned":true,"step":0.1}},
"y":{"field":"y","type":"quantitative","bin":{"binned":true,"step":0.25}},
"color":{"field":"v","type":"quantitative"}}},
{"data":{"name":"Rl"},"mark":{"type":"rect","binSpacing":0},"encoding":{
"x":{"field":"x","type":"quantitative","bin":{"binned":true,"step":0.1}},
"y":{"field":"y","type":"quantitative","bin":{"binned":true,"step":0.25}},
"color":{"field":"v","type":"quantitative"}}}
]}
],
"resolve":{"scale":{"color":"shared"}}
}
